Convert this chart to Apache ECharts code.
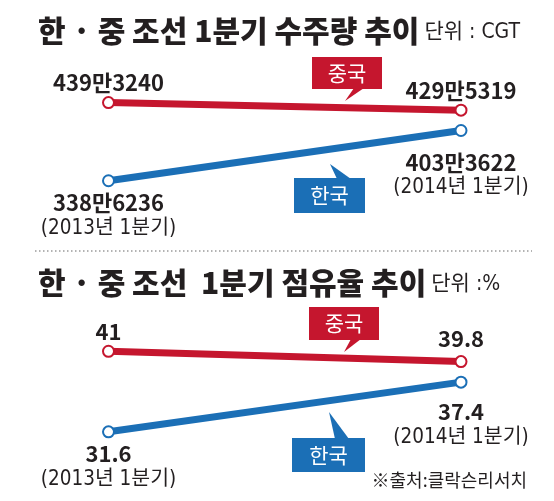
<!DOCTYPE html>
<html>
<head>
<meta charset="utf-8">
<script src="https://cdn.jsdelivr.net/npm/echarts@6/dist/echarts.min.js"></script>
<style>
  html, body { margin: 0; padding: 0; background: #fff; }
  #main { width: 554px; height: 501px; }
</style>
</head>
<body>
<div id="main"></div>
<script>
// 기간 / 국가
var periods = ['2013년 1분기', '2014년 1분기'];
var countries = ['중국', '한국'];
// 1분기 수주량 (CGT)
var orderChina = [4393240, 4295319];
var orderKorea = [3386236, 4033622];
// 1분기 점유율 (%)
var shareChina = [41, 39.8];
var shareKorea = [31.6, 37.4];

var RED = '#c5162e';
var BLUE = '#1b6fb6';
var INK = '#231f20';
var NARROW_FONT = '"DejaVu Sans Condensed", "Noto Sans CJK KR", sans-serif';
var KR_FONT = '"Noto Sans CJK KR", sans-serif';

// 4393240 -> 439만3240
function man(v) {
  return Math.floor(v / 10000) + '만' + String(v % 10000).padStart(4, '0');
}
function pct(v) {
  return String(v);
}

var chart = echarts.init(document.getElementById('main'));

// gaps: 점과 라벨 사이 간격 (왼쪽, 오른쪽)
function lineSeries(idx, name, values, color, fmt, below, gaps) {
  return {
    type: 'line',
    name: name,
    xAxisIndex: idx,
    yAxisIndex: idx,
    data: values.map(function (v, i) {
      return { value: v, label: { distance: gaps[i] } };
    }),
    symbol: 'circle',
    symbolSize: 11,
    itemStyle: { color: '#fff', borderColor: color, borderWidth: 2 },
    lineStyle: { color: color, width: 7 },
    emphasis: { disabled: true },
    label: {
      show: true,
      position: below ? 'bottom' : 'top',
      formatter: function (p) {
        var s = '{v|' + fmt(p.value) + '}';
        if (below) s += '\n{p|(' + periods[p.dataIndex] + ')}';
        return s;
      },
      rich: {
        v: { fontFamily: KR_FONT, fontWeight: 'bold', fontSize: 22, color: INK, lineHeight: 25 },
        p: { fontFamily: NARROW_FONT, fontWeight: 'normal', fontSize: 20.5, color: INK, lineHeight: 26 }
      }
    }
  };
}

// 말풍선 (국가명)
function bubble(x, y, w, h, tail, color, text) {
  return {
    type: 'group',
    children: [
      { type: 'polygon', shape: { points: tail }, style: { fill: color } },
      { type: 'rect', shape: { x: x, y: y, width: w, height: h }, style: { fill: color } },
      {
        type: 'text', x: x + w / 2, y: y + h / 2,
        style: { text: text, fill: '#fff', font: '21px ' + KR_FONT, align: 'center', verticalAlign: 'middle' }
      }
    ]
  };
}

function titleText(main, unit) {
  return '{b|' + main + '} {u|' + unit + '}';
}
var titleRich = {
  b: { fontFamily: KR_FONT, fontWeight: 900, fontSize: 30, color: INK, lineHeight: 34 },
  u: { fontFamily: NARROW_FONT, fontWeight: 'normal', fontSize: 21, color: INK, lineHeight: 34, padding: [3, 0, 0, 0] }
};

var option = {
  animation: false,
  backgroundColor: '#fff',
  title: [
    { left: 33, top: 9, text: titleText('한 · 중 조선 1분기 수주량 추이', '단위 : CGT'), textStyle: { rich: titleRich } },
    { left: 33, top: 261, text: titleText('한 · 중 조선  1분기 점유율 추이', '단위 :%'), textStyle: { rich: titleRich } }
  ],
  grid: [
    { left: 108.5, right: 93, top: 71, bottom: 290.3 },
    { left: 108.5, right: 93, top: 317, bottom: 12.6 }
  ],
  xAxis: [
    { gridIndex: 0, type: 'category', data: periods, boundaryGap: false, show: false },
    { gridIndex: 1, type: 'category', data: periods, boundaryGap: false, show: false }
  ],
  yAxis: [
    { gridIndex: 0, type: 'value', min: 3000000, max: 4800000, show: false, splitLine: { show: false } },
    { gridIndex: 1, type: 'value', min: 25, max: 45, show: false, splitLine: { show: false } }
  ],
  series: [
    lineSeries(0, countries[0], orderChina, RED, man, false, [1, 1]),
    lineSeries(0, countries[1], orderKorea, BLUE, man, true, [3, 13]),
    lineSeries(1, countries[0], shareChina, RED, pct, false, [1, 4]),
    lineSeries(1, countries[1], shareKorea, BLUE, pct, true, [3, 11])
  ],
  graphic: [
    bubble(312, 57, 70, 32, [[354, 88], [364, 88], [345, 101]], RED, countries[0]),
    bubble(294, 178, 71, 35, [[337, 179], [351, 179], [330, 164]], BLUE, countries[1]),
    bubble(309, 307, 70, 33, [[351, 339], [361, 339], [344, 352]], RED, countries[0]),
    bubble(292, 438, 73, 34, [[335, 439], [349, 439], [329, 412]], BLUE, countries[1]),
    {
      type: 'line',
      shape: { x1: 35, y1: 251, x2: 532, y2: 251 },
      style: { stroke: '#9a9a9a', lineWidth: 1.5, lineDash: [1.5, 2.5] }
    },
    {
      type: 'text', x: 527, y: 480,
      style: { text: '※출처:클락슨리서치', fill: INK, font: '18px ' + KR_FONT, align: 'right', verticalAlign: 'middle' }
    }
  ]
};

chart.setOption(option);
</script>
</body>
</html>
